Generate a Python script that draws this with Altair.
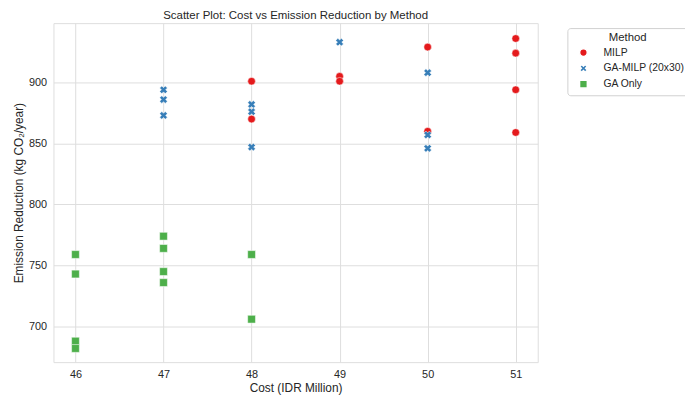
import altair as alt
import pandas as pd

methods = ["MILP", "GA-MILP (20x30)", "GA Only"]
milp_cost = [48, 48, 49, 49, 50, 50, 51, 51, 51, 51]
milp_emis = [901, 870, 905, 901, 929, 860, 936, 924, 894, 859]
gamilp_cost = [47, 47, 47, 48, 48, 48, 49, 50, 50, 50]
gamilp_emis = [894, 886, 873, 882, 876, 847, 933, 908, 857, 846]
ga_cost = [46, 46, 46, 46, 47, 47, 47, 47, 48, 48]
ga_emis = [759, 743, 688, 682, 774, 764, 745, 736, 759, 706]
colors = ["#e41a1c", "#377eb8", "#4daf4a"]
x_ticks = [46, 47, 48, 49, 50, 51]
y_ticks = [700, 750, 800, 850, 900]

rows = []
for m, cs, es in zip(methods, [milp_cost, gamilp_cost, ga_cost], [milp_emis, gamilp_emis, ga_emis]):
    for c, e in zip(cs, es):
        rows.append({"method": m, "cost": c, "emission": e})
df = pd.DataFrame(rows)

FONT = "Liberation Sans"
TXT = "#262626"
GRID = "#dedede"
xpath = "M-1,-0.45L-0.45,-1L0,-0.55L0.45,-1L1,-0.45L0.55,0L1,0.45L0.45,1L0,0.55L-0.45,1L-1,0.45L-0.55,0Z"

leg = alt.Legend(
    title="Method", orient="none", legendX=520, legendY=5,
    strokeColor="#d0d0d0", fillColor="white", cornerRadius=3, padding=4,
    symbolOffset=7, titleAnchor="middle", titleFont=FONT, titleFontSize=11.5,
    titleFontWeight="normal", titleColor=TXT, labelFont=FONT, labelFontSize=10.5,
    labelColor=TXT, rowPadding=1, titlePadding=4, labelOffset=15,
)

chart = alt.Chart(df).mark_point(filled=True, opacity=1, stroke="white", strokeWidth=0.5).encode(
    x=alt.X("cost:Q", scale=alt.Scale(domain=[45.75, 51.25], nice=False, zero=False),
            axis=alt.Axis(values=x_ticks, format="d", title="Cost (IDR Million)",
                          labelPadding=7, titlePadding=3)),
    y=alt.Y("emission:Q", scale=alt.Scale(domain=[670.8, 948.6], nice=False, zero=False),
            axis=alt.Axis(values=y_ticks, format="d", title="Emission Reduction (kg CO₂/year)",
                          labelPadding=7, titlePadding=3)),
    color=alt.Color("method:N", scale=alt.Scale(domain=methods, range=colors), legend=leg),
    shape=alt.Shape("method:N", scale=alt.Scale(domain=methods, range=["circle", xpath, "square"]), legend=leg),
    size=alt.Size("method:N", scale=alt.Scale(domain=methods, range=[60, 62, 32]), legend=leg),
).properties(
    width=490, height=343,
    padding={"left": 46, "top": 13, "right": 149, "bottom": 36},
    autosize=alt.AutoSizeParams(type="none"),
    title=alt.Title("Scatter Plot: Cost vs Emission Reduction by Method", fontSize=11.6,
                    fontWeight="normal", font=FONT, color=TXT, offset=1.5, anchor="middle"),
).configure_view(
    stroke=GRID, strokeWidth=1
).configure_axis(
    grid=True, gridColor=GRID, gridWidth=1, domain=False, ticks=False, tickSize=0,
    labelFont=FONT, labelFontSize=11, labelColor=TXT,
    titleFont=FONT, titleFontSize=12, titleFontWeight="normal", titleColor=TXT,
)

chart.save("out.html", embed_options={"renderer": "svg", "actions": False})
